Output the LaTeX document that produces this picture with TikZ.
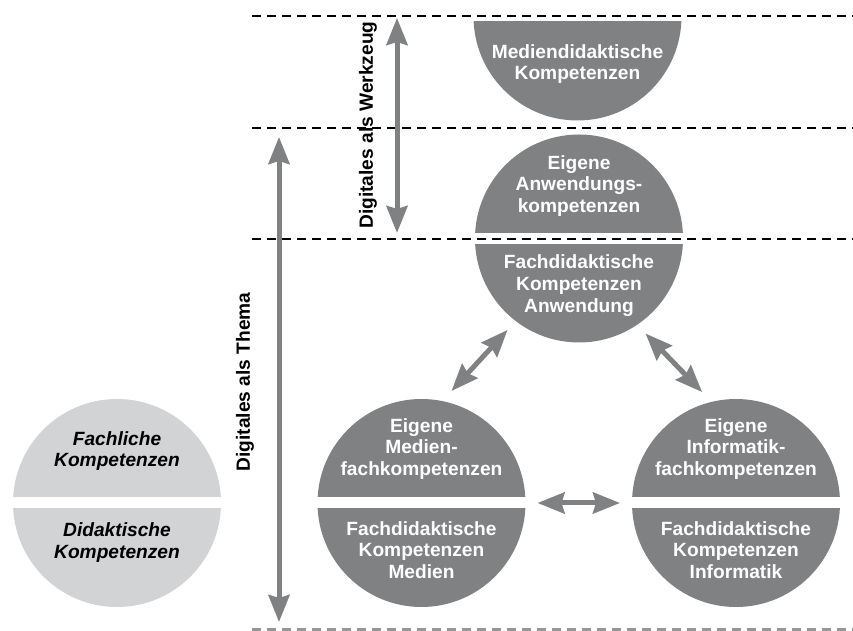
\documentclass[tikz,border=0pt]{standalone}
\usepackage{fontspec}
\setmainfont{Liberation Sans}
\usetikzlibrary{arrows.meta}
\definecolor{dunkelgrau}{RGB}{128,129,131}
\definecolor{hellgrau}{RGB}{209,211,212}
\definecolor{liniengrau}{RGB}{150,150,150}
\tikzset{
    kreis/.style={circle, fill=dunkelgrau, minimum size=4.16cm, inner sep=0pt, outer sep=0.24cm},
    kreishell/.style={kreis, fill=hellgrau},
    spalt/.style={fill=white},
    trennlinie/.style={line width=0.045cm, dash pattern=on 0.17cm off 0.13cm},
    pfeil/.style={{Stealth[length=0.54cm, width=0.42cm, inset=0.06cm]}-{Stealth[length=0.54cm, width=0.42cm, inset=0.06cm]}, line width=0.1cm, draw=dunkelgrau},
    weiss/.style={text=white, font=\bfseries\fontsize{10.9}{12.4}\selectfont, align=center},
    kursiv/.style={text=black, font=\bfseries\itshape\fontsize{10.9}{12.4}\selectfont, align=center},
    achse/.style={font=\bfseries\fontsize{10.9}{12.4}\selectfont, rotate=90}
}

\begin{document}
\begin{tikzpicture}[scale=1]
    \useasboundingbox (0,0) rectangle (17.06,12.62);

    % Circles
    \begin{scope}
        \clip (0,0) rectangle (17.06,12.18);
        \node[kreis] (mdk) at (11.55,12.29) {};
    \end{scope}
    \node[kreis] (anw) at (11.58,7.85) {};
    \node[kreis] (med) at (8.43,2.56) {};
    \node[kreis] (inf) at (14.72,2.56) {};
    \node[kreishell] (fach) at (2.34,2.56) {};

    % White gaps
    \fill[spalt] ([yshift=-0.11cm]anw.west) rectangle ([yshift=0.11cm]anw.east);
    \fill[spalt] ([yshift=-0.11cm]med.west) rectangle ([yshift=0.11cm]med.east);
    \fill[spalt] ([yshift=-0.11cm]inf.west) rectangle ([yshift=0.11cm]inf.east);
    \fill[spalt] ([yshift=-0.11cm]fach.west) rectangle ([yshift=0.11cm]fach.east);

    % Dashed lines
    \draw[trennlinie] (5.04,12.30) -- (17.06,12.30);
    \draw[trennlinie] (5.04,10.06) -- (17.06,10.06);
    \draw[trennlinie] (5.04,7.84) -- (17.06,7.84);
    \draw[trennlinie, draw=liniengrau] (5.04,0.03) -- (17.06,0.03);

    % Vertical arrows
    \coordinate (wz-oben) at (7.94,12.26);
    \coordinate (wz-unten) at (7.94,7.96);
    \draw[pfeil] (wz-oben) -- (wz-unten);
    \node[achse] (werkzeug) at (7.36,10.12) {Digitales als Werkzeug};

    \coordinate (th-oben) at (5.58,9.88);
    \coordinate (th-unten) at (5.58,0.18);
    \draw[pfeil] (th-oben) -- (th-unten);
    \node[achse] (thema) at (4.90,4.98) {Digitales als Thema};

    % Arrows between circles
    \draw[pfeil] (anw.-128) -- (med.75);
    \draw[pfeil] (anw.-55) -- (inf.107);
    \draw[pfeil] (med.east) -- (inf.west);

    % Texts
    \node[weiss] (mdk-text) at (11.55,11.34) {Mediendidaktische\\Kompetenzen};
    \node[weiss] (anw-oben) at (11.58,8.90) {Eigene\\Anwendungs-\\kompetenzen};
    \node[weiss] (anw-unten) at (11.58,6.91) {Fachdidaktische\\Kompetenzen\\Anwendung};
    \node[weiss] (med-oben) at (8.43,3.64) {Eigene\\Medien-\\fachkompetenzen};
    \node[weiss] (med-unten) at (8.43,1.62) {Fachdidaktische\\Kompetenzen\\Medien};
    \node[weiss] (inf-oben) at (14.72,3.64) {Eigene\\Informatik-\\fachkompetenzen};
    \node[weiss] (inf-unten) at (14.72,1.62) {Fachdidaktische\\Kompetenzen\\Informatik};
    \node[kursiv] (fach-oben) at (2.34,3.60) {Fachliche\\Kompetenzen};
    \node[kursiv] (fach-unten) at (2.34,1.77) {Didaktische\\Kompetenzen};
\end{tikzpicture}
\end{document}
